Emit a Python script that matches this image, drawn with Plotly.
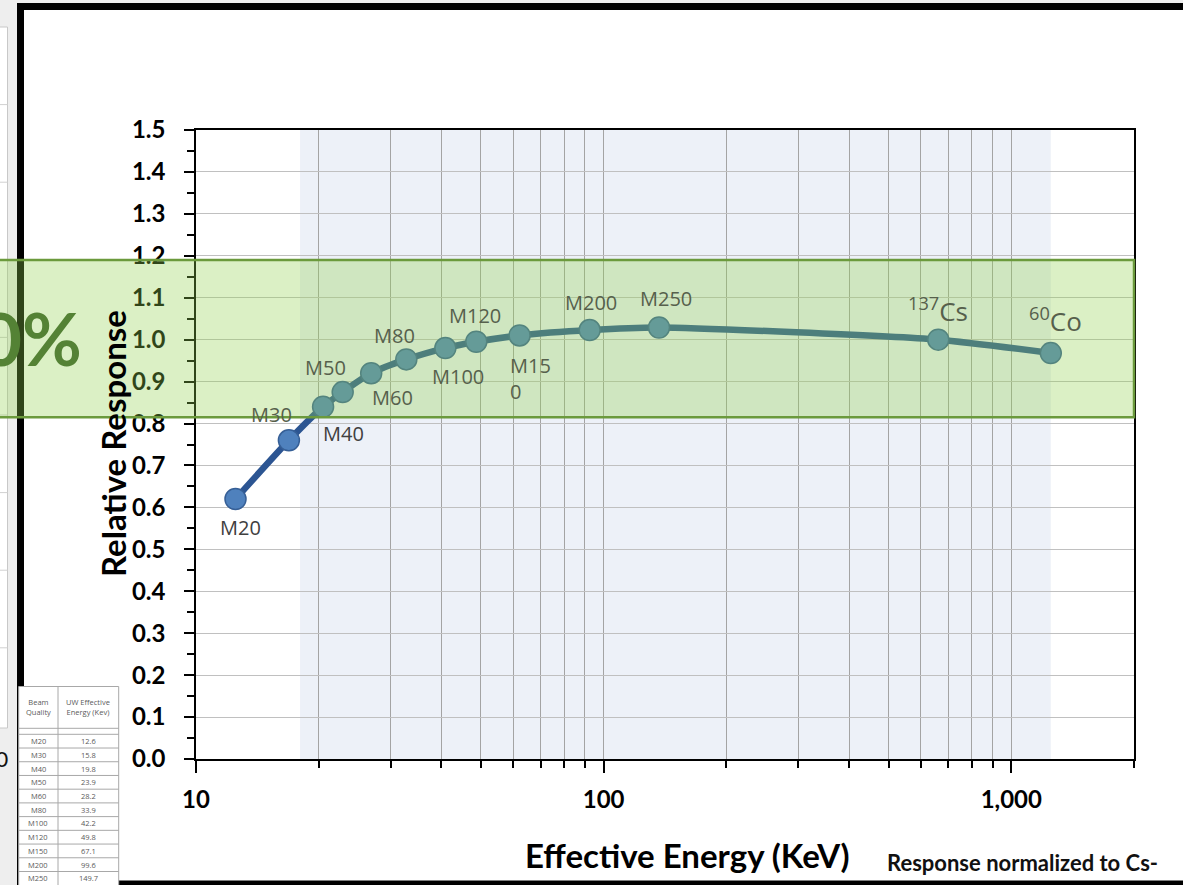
import numpy as np
import plotly.graph_objects as go

# ---- data -------------------------------------------------------------
BEAM_LABELS = ["M20", "M30", "M40", "M50", "M60", "M80", "M100", "M120",
               "M15<br>0", "M200", "M250", "<sup>137</sup>Cs", "<sup>60</sup>Co"]
ENERGY_KEV = [12.5, 16.9, 20.5, 22.9, 26.9, 32.8, 40.9, 48.7, 62.2, 92.4,
              136.7, 662, 1250]
RELATIVE_RESPONSE = [0.62, 0.76, 0.84, 0.875, 0.92, 0.953, 0.98, 0.995,
                     1.01, 1.023, 1.029, 1.0, 0.968]

# shaded energy range and acceptance band
SHADED_RANGE_KEV = [18, 1250]
BAND_LIMITS = [0.815, 1.19]

# reference table of beam qualities
TABLE_QUALITY = ["M20", "M30", "M40", "M50", "M60", "M80", "M100", "M120",
                 "M150", "M200", "M250"]
TABLE_UW_ENERGY = ["12.6", "15.8", "19.8", "23.9", "28.2", "33.9", "42.2",
                   "49.8", "67.1", "99.6", "149.7"]

X_TICKS = [10, 100, 1000]
X_TICK_TEXT = ["10", "100", "1,000"]
X_MINOR = [20, 30, 40, 50, 60, 70, 80, 90,
           200, 300, 400, 500, 600, 700, 800, 900, 2000]

# ---- page geometry ----------------------------------------------------
W, H = 1183, 885
ML, MR, MT, MB = 196, 49, 130, 126
PW, PH = W - ML - MR, H - MT - MB


def px(x):
    return (x - ML) / PW


def py(y):
    return (H - MB - y) / PH


def page_text(x, y, text, font, xanchor="center", yanchor="middle", **kw):
    """Text placed at page pixel coordinates."""
    d = dict(x=px(x), y=py(y), xref="paper", yref="paper", text=text,
             showarrow=False, font=font, xanchor=xanchor, yanchor=yanchor)
    d.update(kw)
    return d


FONT = "Lato"
LABEL_FONT = "Open Sans"

fig = go.Figure()

fig.add_trace(go.Scatter(
    x=ENERGY_KEV, y=RELATIVE_RESPONSE,
    mode="lines+markers",
    line=dict(color="#2c5592", width=6.5, shape="spline", smoothing=0.6),
    marker=dict(size=21, color="#4f81bd",
                line=dict(color="#365f96", width=1.5)),
    hoverinfo="skip", showlegend=False,
))

# label offsets (pixels) for each point label
label_shift = [(5, -28), (-17, 26), (20, -27), (-17, 25), (21, -24),
               (-12, 24), (13, -28), (-1, 26), (-12, -43), (1, 28),
               (7, 29), (0, 30), (5, 33)]
band_tint = "#56604c"
plain_text = "#404040"

annotations = []
for lab, e, r, (dx, dy) in zip(BEAM_LABELS, ENERGY_KEV, RELATIVE_RESPONSE,
                               label_shift):
    inside = BAND_LIMITS[0] <= r + dy / 419.0 <= BAND_LIMITS[1]
    big = "Cs" in lab or "Co" in lab
    ann = dict(
        x=np.log10(e), y=r, xref="x", yref="y", text=lab, showarrow=False,
        xshift=dx, yshift=dy, xanchor="center", yanchor="middle",
        font=dict(family=LABEL_FONT, size=26 if big else 20,
                  color=band_tint if inside else plain_text),
    )
    if "<br>" in lab:
        ann.update(xanchor="left", align="left")
    annotations.append(ann)

# axis titles and notes
annotations += [
    page_text(113, 444, "Relative Response",
              dict(family=FONT, size=33, color="black", weight="bold"),
              textangle=-90),
    page_text(687, 855, "Effective Energy (KeV)",
              dict(family=FONT, size=33, color="black", weight="bold")),
    page_text(1022, 862, "Response normalized to Cs-",
              dict(family=FONT, size=22, color="#111111", weight="bold")),
    page_text(84, 338, "±20%",
              dict(family=FONT, size=73, color="#548235", weight="bold"),
              xanchor="right"),
    page_text(11, 758, "100",
              dict(family=FONT, size=22, color="#111111"), xanchor="right"),
]

shapes = []
# page background pieces
shapes.append(dict(type="rect", xref="paper", yref="paper", layer="below",
                   x0=px(17), x1=px(W + 20), y0=py(H + 20), y1=py(4),
                   fillcolor="white", line=dict(width=0)))
shapes.append(dict(type="rect", xref="paper", yref="paper", layer="below",
                   x0=px(-20), x1=px(7.5), y0=py(728), y1=py(27),
                   fillcolor="white", line=dict(color="#c8c8c8", width=1)))
for k in range(1, 9):
    yy = 27 + 77.6 * k
    shapes.append(dict(type="line", xref="paper", yref="paper",
                       layer="below", x0=px(-20), x1=px(7.5),
                       y0=py(yy), y1=py(yy),
                       line=dict(color="#d0d0d0", width=1)))
# shaded energy range (shape x positions on a log axis are plain keV values)
shapes.append(dict(type="rect", xref="x", yref="y", layer="below",
                   x0=SHADED_RANGE_KEV[0], x1=SHADED_RANGE_KEV[1],
                   y0=0, y1=1.5,
                   fillcolor="#edf1f8", line=dict(width=0)))
# heavy black frame
shapes.append(dict(type="rect", xref="paper", yref="paper", layer="above",
                   x0=px(20.5), x1=px(W + 40), y0=py(884), y1=py(6.5),
                   fillcolor="rgba(0,0,0,0)",
                   line=dict(color="black", width=7)))
# acceptance band
shapes.append(dict(type="rect", xref="paper", yref="y", layer="above",
                   x0=px(-30), x1=1.0, y0=BAND_LIMITS[0], y1=BAND_LIMITS[1],
                   fillcolor="rgba(146,208,80,0.33)",
                   line=dict(color="#6b9a3c", width=2.5)))

# small reference table
TL, TR, TC = 18.7, 118.7, 58
T_TOP, HEAD_BOT, ROW_TOP, ROW_H = 686.5, 728.3, 734.3, 13.72
grid_line = dict(color="#a8a8a8", width=1)
shapes.append(dict(type="rect", xref="paper", yref="paper", layer="above",
                   x0=px(TL), x1=px(TR), y0=py(H + 10), y1=py(T_TOP),
                   fillcolor="white", line=grid_line))
shapes.append(dict(type="line", xref="paper", yref="paper", layer="above",
                   x0=px(TC), x1=px(TC), y0=py(H + 10), y1=py(T_TOP),
                   line=grid_line))
for yy in [HEAD_BOT, ROW_TOP] + [ROW_TOP + ROW_H * k
                                 for k in range(1, len(TABLE_QUALITY))]:
    shapes.append(dict(type="line", xref="paper", yref="paper",
                       layer="above", x0=px(TL), x1=px(TR),
                       y0=py(yy), y1=py(yy), line=grid_line))
tfont = dict(family="Open Sans", size=7.5, color="#5a5a5a")
annotations += [
    page_text((TL + TC) / 2, 707, "Beam<br>Quality", tfont),
    page_text((TC + TR) / 2, 707, "UW Effective<br>Energy (Kev)", tfont),
]
for i, (q, v) in enumerate(zip(TABLE_QUALITY, TABLE_UW_ENERGY)):
    yy = ROW_TOP + ROW_H * (i + 0.5)
    annotations.append(page_text((TL + TC) / 2, yy, q, tfont))
    annotations.append(page_text((TC + TR) / 2, yy, v, tfont))

fig.update_layout(
    width=W, height=H,
    margin=dict(l=ML, r=MR, t=MT, b=MB, pad=0),
    paper_bgcolor="#eeeeee", plot_bgcolor="rgba(0,0,0,0)",
    shapes=shapes, annotations=annotations,
    xaxis=dict(
        type="log", range=[1, np.log10(2000)],
        tickmode="array", tickvals=X_TICKS, ticktext=X_TICK_TEXT,
        ticks="outside", ticklen=12, tickwidth=1.5, tickcolor="black",
        ticklabelstandoff=6,
        tickfont=dict(family=FONT, size=24, color="black", weight="bold"),
        showline=True, linecolor="black", linewidth=1.5, mirror=True,
        showgrid=True, gridcolor="#a4a4a4", gridwidth=1, zeroline=False,
        minor=dict(tickmode="array", tickvals=X_MINOR, ticks="outside",
                   ticklen=7, tickwidth=1.5, tickcolor="black",
                   showgrid=True, gridcolor="#a4a4a4", gridwidth=1),
    ),
    yaxis=dict(
        range=[0, 1.5], dtick=0.1, tick0=0, tickformat=".1f",
        ticks="outside", ticklen=10, tickwidth=1.5, tickcolor="black",
        ticklabelstandoff=14,
        tickfont=dict(family=FONT, size=24, color="black", weight="bold"),
        showline=True, linecolor="black", linewidth=1.5, mirror=True,
        showgrid=True, gridcolor="#c0c0c0", gridwidth=1, zeroline=False,
        minor=dict(dtick=0.05, ticks="outside", ticklen=7, tickwidth=1.5,
                   tickcolor="black", showgrid=False),
    ),
)

fig.write_html("out.html")
